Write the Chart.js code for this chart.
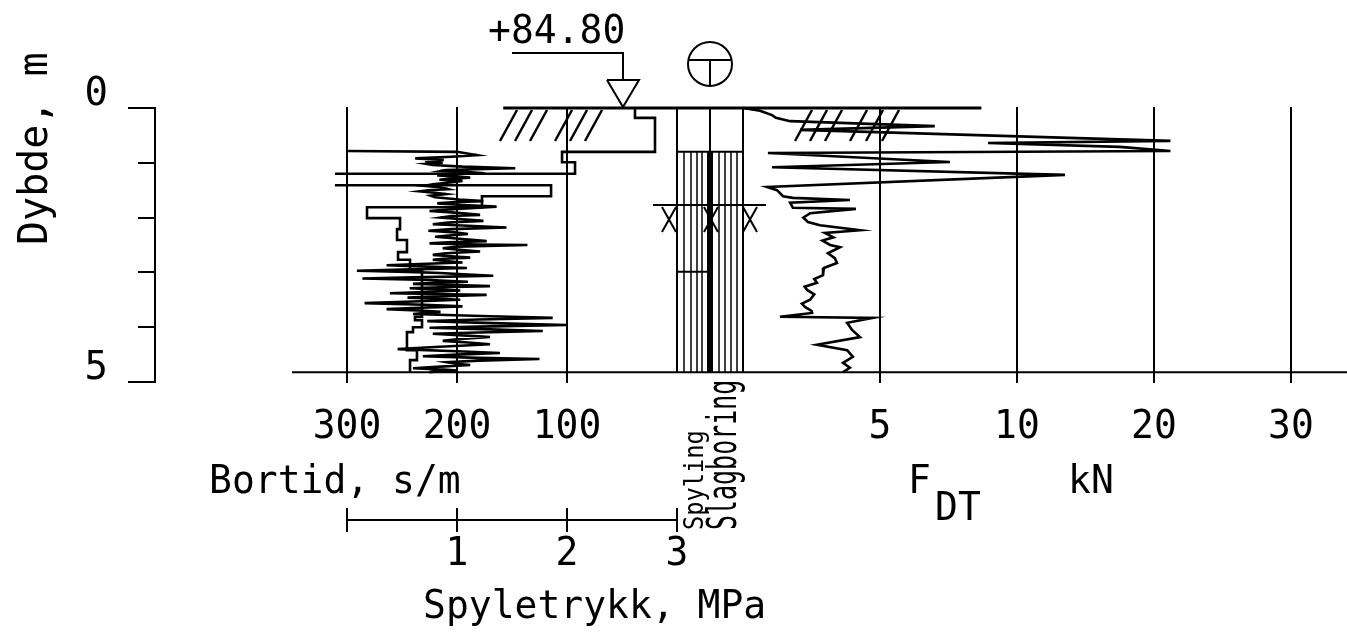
<!DOCTYPE html>
<html>
<head>
<meta charset="utf-8">
<script src="https://cdn.jsdelivr.net/npm/chart.js@4.4.0/dist/chart.umd.min.js"></script>
<style>
  html, body { margin: 0; padding: 0; background: #fff; overflow: hidden; }
  canvas { display: block; }
</style>
</head>
<body>
<canvas id="log" width="1347" height="641"></canvas>
<script>
// axis ticks
const depthTicks = [0, 1, 2, 3, 4, 5];
const bortidTicks = [300, 200, 100];
const fdtTicks = [5, 10, 20, 30];
const pressureTicks = [0, 1, 2, 3];

// borehole info (m)
const stopDepth = 4.82;
const flushFrom = 0.8;
const waterDepth = 1.77;
const columnMark = 2.99;
const elevation = "+84.80";

// Bortid, s/m (step curve). null = off scale
const bortidDepth = [0, 0.18, 0.18, 0.80, 0.80, 0.99, 0.99, 1.20, 1.20, null, 1.41, 1.41, 1.61, 1.61, 1.81, 1.81, 2.01, 2.01, 2.21, 2.21, 2.41, 2.41, 2.63, 2.63, 2.77, 2.77, 2.96, 2.96, 3.81, 3.81, 3.87, 3.87, 4.00, 4.00, 4.09, 4.09, 4.42, 4.42, 4.60, 4.60, 4.82];
const bortidValue = [38.2, 38.2, 20, 20, 104.5, 104.5, 92.7, 92.7, 311, null, 311, 114.5, 114.5, 177.3, 177.3, 281.8, 281.8, 251.8, 251.8, 254.5, 254.5, 245.5, 245.5, 253.6, 253.6, 242.7, 242.7, 231.8, 231.8, 238.2, 238.2, 231.8, 231.8, 240, 240, 245.5, 245.5, 236.4, 236.4, 242.7, 242.7];

// Spyletrykk, MPa
const pressureDepth = [0.785, 0.80, 0.86, 0.89, 0.92, 0.95, 0.97, 1.00, 1.02, 1.04, 1.07, 1.10, 1.13, 1.15, 1.17, 1.19, 1.21, 1.23, 1.25, 1.27, 1.29, 1.31, 1.33, 1.35, 1.39, 1.42, 1.45, 1.48, 1.50, 1.52, 1.55, 1.57, 1.60, 1.63, 1.67, 1.70, 1.72, 1.74, 1.77, 1.80, 1.84, 1.88, 1.91, 1.95, 1.97, 2.00, 2.03, 2.06, 2.09, 2.12, 2.15, 2.18, 2.21, 2.24, 2.27, 2.30, 2.33, 2.35, 2.39, 2.43, 2.45, 2.47, 2.49, 2.50, 2.53, 2.56, 2.59, 2.62, 2.65, 2.68, 2.71, 2.73, 2.75, 2.77, 2.80, 2.82, 2.85, 2.87, 2.90, 2.92, 2.95, 2.97, 2.99, 3.01, 3.04, 3.06, 3.09, 3.11, 3.14, 3.17, 3.19, 3.21, 3.23, 3.25, 3.27, 3.29, 3.31, 3.33, 3.36, 3.38, 3.40, 3.41, 3.44, 3.46, 3.48, 3.50, 3.53, 3.56, 3.59, 3.62, 3.65, 3.67, 3.70, 3.72, 3.74, 3.76, 3.80, 3.83, 3.86, 3.89, 3.93, 3.96, 3.99, 4.01, 4.04, 4.07, 4.10, 4.12, 4.15, 4.18, 4.22, 4.25, 4.28, 4.31, 4.36, 4.40, 4.44, 4.47, 4.50, 4.53, 4.56, 4.58, 4.61, 4.64, 4.67, 4.69, 4.72, 4.75, 4.77, 4.79, 4.81, 4.82];
const pressureValue = [0.01, 1.00, 1.18, 0.95, 0.62, 0.88, 0.71, 0.87, 0.72, 0.78, 1.05, 1.53, 0.90, 0.85, 1.10, 1.25, 0.90, 0.82, 1.00, 1.12, 0.92, 0.84, 1.05, 0.98, 0.78, 0.70, 0.86, 0.92, 0.74, 0.66, 0.82, 0.90, 0.76, 0.80, 1.02, 1.24, 0.95, 0.82, 1.05, 1.36, 1.00, 0.75, 0.98, 1.21, 0.95, 0.85, 1.05, 1.24, 0.92, 0.78, 1.10, 1.45, 0.95, 0.74, 0.98, 1.10, 0.90, 0.80, 1.05, 1.27, 0.92, 0.75, 1.20, 1.64, 1.00, 0.87, 1.05, 1.21, 0.90, 0.78, 0.98, 1.12, 0.88, 0.78, 0.95, 1.05, 0.60, 0.36, 0.80, 1.09, 0.50, 0.09, 0.55, 0.85, 1.10, 1.33, 0.60, 0.14, 0.75, 1.10, 0.80, 0.60, 1.00, 1.30, 0.85, 0.57, 0.80, 1.03, 0.70, 0.39, 0.90, 1.27, 0.80, 0.55, 0.85, 1.03, 0.60, 0.16, 0.70, 1.05, 0.60, 0.36, 0.70, 0.85, 0.70, 0.60, 1.30, 1.87, 1.20, 0.73, 1.40, 2.00, 1.20, 0.75, 1.30, 1.78, 1.10, 0.78, 1.05, 1.30, 1.00, 0.87, 1.10, 1.30, 0.80, 0.46, 1.00, 1.39, 1.00, 0.69, 1.20, 1.75, 1.20, 0.91, 1.00, 1.12, 0.85, 0.60, 0.85, 1.00, 0.80, 0.75];

// F_DT, kN
const fdtDepth = [0.00, 0.05, 0.13, 0.18, 0.24, 0.33, 0.40, 0.60, 0.64, 0.71, 0.785, 0.82, 0.985, 1.08, 1.22, 1.44, 1.50, 1.61, 1.64, 1.68, 1.73, 1.82, 1.84, 1.92, 2.00, 2.08, 2.14, 2.23, 2.28, 2.36, 2.42, 2.50, 2.54, 2.65, 2.74, 2.83, 2.92, 3.05, 3.12, 3.19, 3.26, 3.32, 3.40, 3.50, 3.57, 3.63, 3.70, 3.74, 3.81, 3.83, 3.92, 4.05, 4.18, 4.32, 4.42, 4.54, 4.65, 4.74, 4.82];
const fdtValue = [0.0, 0.62, 1.06, 1.2, 1.72, 7.0, 2.08, 21.2, 8.94, 17.5, 21.2, 0.91, 7.55, 1.06, 13.5, 0.88, 1.24, 1.46, 1.82, 3.9, 1.72, 1.82, 4.12, 2.45, 2.2, 2.37, 2.81, 4.27, 2.99, 3.3, 2.9, 3.18, 3.54, 3.1, 3.35, 3.43, 2.95, 2.92, 2.6, 2.7, 2.25, 2.34, 2.6, 2.45, 2.15, 2.26, 2.5, 2.52, 1.35, 4.74, 3.8, 3.98, 4.27, 2.7, 3.8, 4.01, 3.65, 3.9, 3.65];

const FONT = "'DejaVu Sans Mono', 'Liberation Mono', monospace";
const area = { left: 155, right: 1347 };

// value v1 sits at pixel p1, v2 at p2 -> min/max over the plot width
function span(v1, p1, v2, p2) {
  const k = (v2 - v1) / (p2 - p1);
  const a = v1 + (area.left - p1) * k, b = v1 + (area.right - p1) * k;
  return { min: Math.min(a, b), max: Math.max(a, b), reverse: k < 0 };
}

// F_DT axis: 0-10 kN full scale, above 10 half scale
function fdtUnits(v) {
  if (v == null || isNaN(v)) return v;
  return v <= 10 ? v : 10 + (v - 10) / 2;
}
class FdtScale extends Chart.LinearScale {
  getPixelForValue(v) { return super.getPixelForValue(fdtUnits(v)); }
}
FdtScale.id = "fdt";
FdtScale.defaults = Chart.LinearScale.defaults;
Chart.register(FdtScale);

function pts(xs, ys) { return xs.map((x, i) => ({ x, y: ys[i] })); }

function path(ctx, p, w) {
  ctx.lineWidth = w;
  ctx.beginPath();
  p.forEach(([x, y], i) => (i ? ctx.lineTo(x, y) : ctx.moveTo(x, y)));
  ctx.stroke();
}
function text(ctx, s, x, y, o = {}) {
  ctx.save();
  ctx.translate(x, y);
  if (o.rot) ctx.rotate(o.rot);
  ctx.scale(o.sx || 1, o.sy || 1.04);
  ctx.font = (o.size || 38) + "px " + FONT;
  ctx.textAlign = o.align || "left";
  ctx.textBaseline = "alphabetic";
  ctx.fillStyle = "#000";
  ctx.fillText(s, 0, 0);
  ctx.restore();
}

const logArt = {
  id: "logArt",
  beforeDatasetsDraw(chart) {
    const { ctx, scales: { y, xB, xF } } = chart;
    const top = y.getPixelForValue(0), bot = y.getPixelForValue(stopDepth);
    ctx.save();
    ctx.strokeStyle = "#000";
    ctx.fillStyle = "#000";

    // grid
    bortidTicks.forEach(v => { const x = xB.getPixelForValue(v); path(ctx, [[x, top - 1], [x, y.getPixelForValue(5) + 1]], 2); });
    fdtTicks.forEach(v => { const x = xF.getPixelForValue(v); path(ctx, [[x, top - 1], [x, y.getPixelForValue(5) + 1]], 2); });

    // stop line and ground
    path(ctx, [[xB.getPixelForValue(350), bot], [area.right, bot]], 2);
    path(ctx, [[xB.getPixelForValue(158), top], [xF.getPixelForValue(8.7), top]], 3);

    // ground hatching
    [500, 515, 530, 555, 570, 585, 795, 810, 825, 850, 866, 882].forEach(x0 => path(ctx, [[x0, top + 33], [x0 + 17, top + 2]], 2.5));

    // borehole column
    const l = xB.getPixelForValue(0), r = xF.getPixelForValue(0), m = (l + r) / 2;
    const fl = y.getPixelForValue(flushFrom);
    path(ctx, [[l, top], [l, bot]], 2);
    path(ctx, [[r, top], [r, bot]], 2);
    path(ctx, [[m, top], [m, fl]], 2);
    path(ctx, [[l, fl], [r, fl]], 2);
    [7, 14, 20, 25].forEach(d => path(ctx, [[l + d, fl], [l + d, bot]], 1.5));
    [9, 15, 21, 27].forEach(d => path(ctx, [[m + d, fl], [m + d, bot]], 1.5));
    ctx.fillRect(m - 3, fl, 6, bot - fl);
    const cm = y.getPixelForValue(columnMark);
    path(ctx, [[l, cm], [m, cm]], 2);

    // ground water
    const w = y.getPixelForValue(waterDepth);
    path(ctx, [[l - 24, w], [r + 23, w]], 2);
    [l - 15, m - 6, r].forEach(x0 => {
      path(ctx, [[x0, w + 2], [x0 + 14, w + 27]], 2);
      path(ctx, [[x0 + 14, w + 2], [x0, w + 27]], 2);
    });
    ctx.restore();
  },
  afterDraw(chart) {
    const { ctx, scales: { y, xB, xP, xF } } = chart;
    ctx.save();
    ctx.strokeStyle = "#000";

    // long ticks at 0 and 5
    [0, 5].forEach(v => { const p = y.getPixelForValue(v); path(ctx, [[128, p], [140, p]], 2); });
    text(ctx, "Dybde, m", 47, 245, { rot: -Math.PI / 2, size: 40 });

    // elevation marker
    const mx = 623;
    text(ctx, elevation, 488, 43);
    path(ctx, [[512, 53], [mx, 53], [mx, 80]], 2);
    path(ctx, [[mx - 16, 80], [mx + 16, 80], [mx, 107], [mx - 16, 80]], 2);

    // total sounding symbol
    const cx = xB.getPixelForValue(0) + 33, cy = 64, cr = 22;
    ctx.lineWidth = 2;
    ctx.beginPath(); ctx.arc(cx, cy, cr, 0, Math.PI * 2); ctx.stroke();
    const dx = Math.sqrt(cr * cr - 16);
    path(ctx, [[cx - dx, cy - 4], [cx + dx, cy - 4]], 2);
    path(ctx, [[cx, cy - 4], [cx, cy + cr]], 2);

    // tick labels
    bortidTicks.forEach(v => text(ctx, String(v), xB.getPixelForValue(v), 438, { align: "center" }));
    fdtTicks.forEach(v => text(ctx, String(v), xF.getPixelForValue(v), 438, { align: "center" }));
    text(ctx, "Bortid, s/m", 209, 493);
    text(ctx, "F", 908, 493);
    text(ctx, "DT", 935, 520);
    text(ctx, "kN", 1068, 493);

    // pressure scale bar
    const by = 520;
    path(ctx, [[xP.getPixelForValue(0), by], [xP.getPixelForValue(3), by]], 2);
    pressureTicks.forEach(v => {
      const x = xP.getPixelForValue(v);
      path(ctx, [[x, by - 12], [x, by + 12]], 2);
      if (v > 0) text(ctx, String(v), x, 565, { align: "center" });
    });
    text(ctx, "Spyletrykk, MPa", 423, 618);

    // column legend
    text(ctx, "Spyling", 703, 530, { rot: -Math.PI / 2, size: 26, sx: 0.91 });
    text(ctx, "Slagboring", 736, 530, { rot: -Math.PI / 2, size: 39, sx: 0.64 });
    ctx.restore();
  }
};

const bSpan = span(0, 677, 300, 347);
const pSpan = span(0, 347, 3, 677);
const fSpan = span(0, 743, 10, 1017);

new Chart(document.getElementById("log"), {
  type: "scatter",
  data: {
    datasets: [
      { label: "Spyletrykk", data: pts(pressureValue, pressureDepth), xAxisID: "xP", borderWidth: 2.6 },
      { label: "Bortid", data: pts(bortidValue, bortidDepth), xAxisID: "xB", borderWidth: 2.6 },
      { label: "F_DT", data: pts(fdtValue, fdtDepth), xAxisID: "xF", borderWidth: 2.6 }
    ].map(d => Object.assign(d, { yAxisID: "y", showLine: true, borderColor: "#000", pointRadius: 0, tension: 0, clip: false }))
  },
  options: {
    responsive: false,
    animation: false,
    layout: { padding: { top: 108, bottom: 259, left: 0, right: 0 } },
    plugins: { legend: { display: false }, tooltip: { enabled: false } },
    scales: {
      y: {
        type: "linear", min: 0, max: 5, reverse: true, position: "left",
        afterFit: s => { s.width = area.left; },
        border: { display: true, color: "#000", width: 2 },
        grid: { drawOnChartArea: false, tickLength: 17, color: "#000", lineWidth: 2 },
        afterBuildTicks: s => { s.ticks = depthTicks.map(v => ({ value: v })); },
        ticks: {
          padding: 30, labelOffset: -13, color: "#000",
          font: { family: FONT, size: 39 },
          callback: v => (v === 0 || v === 5 ? String(v) : "")
        }
      },
      xB: { type: "linear", display: false, min: bSpan.min, max: bSpan.max, reverse: bSpan.reverse },
      xP: { type: "linear", display: false, min: pSpan.min, max: pSpan.max, reverse: pSpan.reverse },
      xF: { type: "fdt", display: false, min: fSpan.min, max: fSpan.max }
    }
  },
  plugins: [logArt]
});
</script>
</body>
</html>
